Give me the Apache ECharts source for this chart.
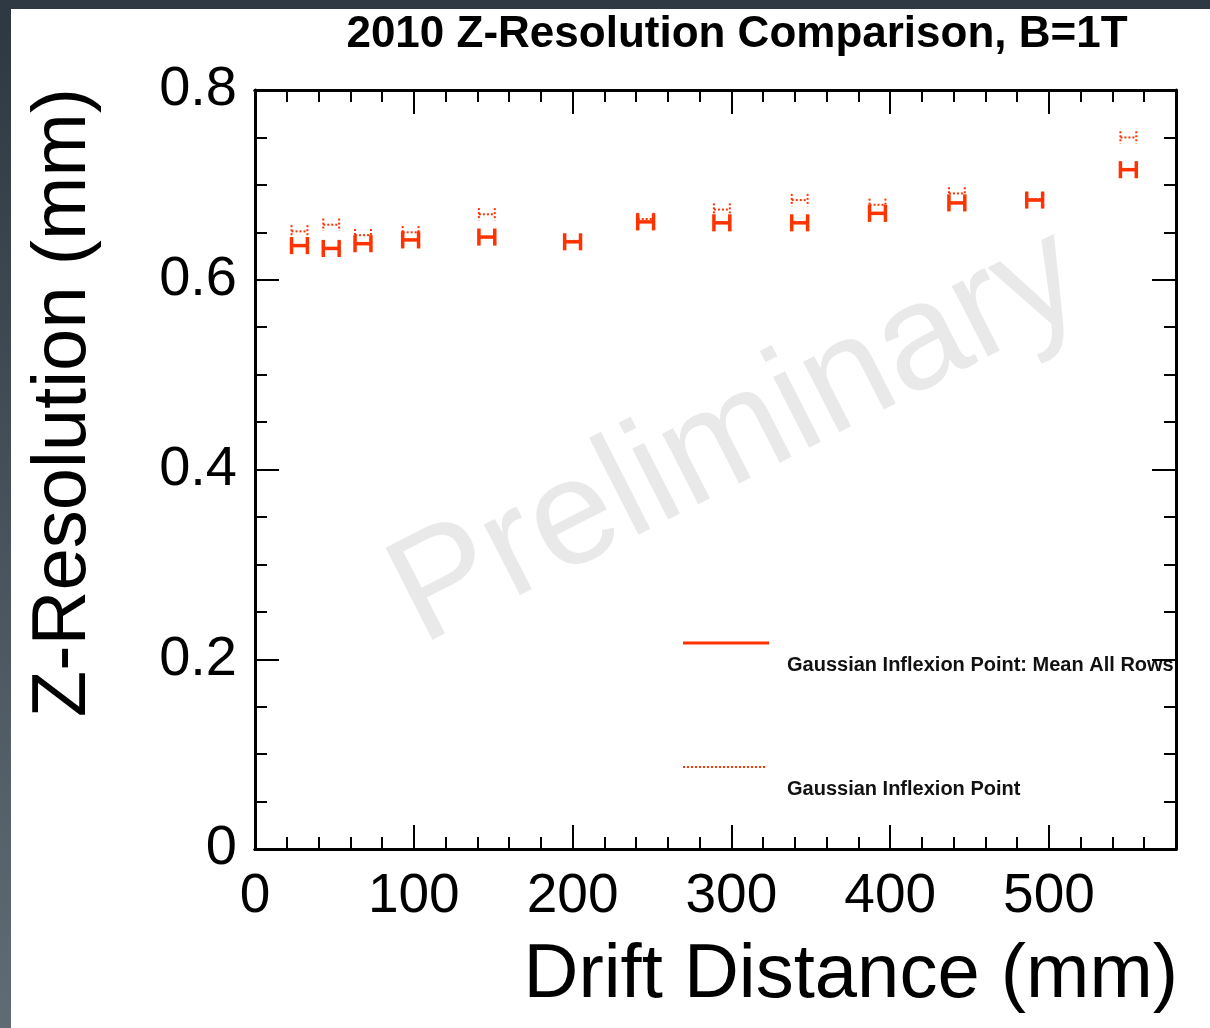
<!DOCTYPE html>
<html>
<head>
<meta charset="utf-8">
<title>2010 Z-Resolution Comparison</title>
<script src="https://cdn.jsdelivr.net/npm/echarts@6/dist/echarts.min.js"></script>
<style>
  html, body {
    margin: 0;
    padding: 0;
    width: 1210px;
    height: 1028px;
    overflow: hidden;
    background: linear-gradient(to bottom, #2e3843, #5f6b75);
  }
  .paper {
    position: absolute;
    left: 11px;
    top: 9px;
    right: 0;
    bottom: 0;
    background: #ffffff;
  }
  .com-chart {
    position: absolute;
    left: 0;
    top: 0;
    width: 1210px;
    height: 1028px;
  }
</style>
</head>
<body>
<div class="paper"></div>
<div class="com-chart" id="chart"></div>
<script>
// drift distance (mm) of each measured point
const distance = [28, 48, 68, 98, 146, 200, 246, 294, 343, 392, 442, 491, 550]
// Gaussian Inflexion Point: Mean All Rows (mm)
const meanAllRows = [0.636, 0.633, 0.638, 0.642, 0.645, 0.640, 0.661, 0.660, 0.660, 0.670, 0.681, 0.684, 0.716]
// Gaussian Inflexion Point (mm)
const inflexion = [0.651, 0.658, 0.647, 0.650, 0.669, 0.641, 0.664, 0.674, 0.684, 0.679, 0.691, 0.685, 0.750]
// error bar half sizes
const meanAllRowsErr = {x: 5, y: 0.009}
const inflexionErr = {x: 5, y: 0.0065}
const xTickLabels = ['0', '100', '200', '300', '400', '500']
const yTickLabels = ['0', '0.2', '0.4', '0.6', '0.8']

const FONT = "'Liberation Sans', Arial, Helvetica, sans-serif"
const RED = '#ff3300'

function toRows(ys, err) {
  return distance.map((d, i) => [d, ys[i], err.x, err.y])
}

function hMarker(width, dash) {
  return function (params, api) {
    const x = api.value(0), y = api.value(1), ex = api.value(2), ey = api.value(3)
    const l = api.coord([x - ex, y])
    const r = api.coord([x + ex, y])
    const lt = api.coord([x - ex, y + ey])
    const lb = api.coord([x - ex, y - ey])
    const rt = api.coord([x + ex, y + ey])
    const rb = api.coord([x + ex, y - ey])
    const style = {stroke: RED, lineWidth: width, lineDash: dash}
    return {
      type: 'group',
      children: [
        {type: 'line', shape: {x1: l[0], y1: l[1], x2: r[0], y2: r[1]}, style: style},
        {type: 'line', shape: {x1: lt[0], y1: lt[1], x2: lb[0], y2: lb[1]}, style: style},
        {type: 'line', shape: {x1: rt[0], y1: rt[1], x2: rb[0], y2: rb[1]}, style: style}
      ]
    }
  }
}

function xAxisDef(position, interval, tickLen, showLabel) {
  return {
    type: 'value',
    position: position,
    min: 0,
    max: 580,
    interval: interval,
    splitLine: {show: false},
    axisLine: {show: true, onZero: false, lineStyle: {color: '#000', width: 3}},
    axisTick: {show: true, inside: true, length: tickLen, lineStyle: {color: '#000', width: 2}},
    axisLabel: {
      show: showLabel,
      showMaxLabel: false,
      margin: 20,
      fontSize: 55,
      fontFamily: FONT,
      color: '#000',
      formatter: v => xTickLabels[Math.round(v / 100)] || ''
    }
  }
}

function yAxisDef(position, showLabel) {
  return {
    type: 'value',
    position: position,
    min: 0,
    max: 0.8,
    interval: 0.2,
    splitLine: {show: false},
    axisLine: {show: true, onZero: false, lineStyle: {color: '#000', width: 3}},
    axisTick: {show: true, inside: true, length: 24, lineStyle: {color: '#000', width: 2}},
    minorTick: {show: true, splitNumber: 4, length: 12, lineStyle: {color: '#000', width: 2}},
    axisLabel: {
      show: showLabel,
      margin: 18,
      fontSize: 56,
      fontFamily: FONT,
      color: '#000',
      padding: [12, 0, 0, 0],
      formatter: v => yTickLabels[Math.round(v / 0.2)] || ''
    }
  }
}

function initChart() {
  const chartInstance = echarts.init(document.getElementById('chart'), null, {renderer: 'canvas'})
  const option = {
    animation: false,
    backgroundColor: 'transparent',
    textStyle: {fontFamily: FONT},
    grid: {left: 255, right: 34, top: 90, bottom: 179},
    xAxis: [
      xAxisDef('bottom', 100, 24, true),
      xAxisDef('bottom', 20, 12, false),
      xAxisDef('top', 100, 24, false),
      xAxisDef('top', 20, 12, false)
    ],
    yAxis: [
      yAxisDef('left', true),
      yAxisDef('right', false)
    ],
    graphic: [
      {
        type: 'text', z: 0,
        x: 737, y: 438,
        rotation: 27 * Math.PI / 180,
        style: {text: 'Preliminary', font: '150px ' + FONT, fill: '#e9e9e9', textAlign: 'center', textVerticalAlign: 'middle'}
      },
      {
        type: 'text',
        x: 737, y: 35,
        style: {text: '2010 Z-Resolution Comparison, B=1T', font: 'bold 44px ' + FONT, fill: '#000', textAlign: 'center', textVerticalAlign: 'middle'}
      },
      {
        type: 'text',
        x: 64, y: 88,
        rotation: Math.PI / 2,
        style: {text: 'Z-Resolution (mm)', font: '76px ' + FONT, fill: '#000', textAlign: 'right', textVerticalAlign: 'middle'}
      },
      {
        type: 'text',
        x: 1178, y: 976,
        style: {text: 'Drift Distance (mm)', font: '76px ' + FONT, fill: '#000', textAlign: 'right', textVerticalAlign: 'middle'}
      },
      // legend
      {type: 'line', shape: {x1: 683, y1: 643, x2: 769, y2: 643}, style: {stroke: RED, lineWidth: 3}},
      {
        type: 'text', x: 787, y: 665,
        style: {text: 'Gaussian Inflexion Point: Mean All Rows', font: 'bold 20px ' + FONT, fill: '#111', textVerticalAlign: 'middle'}
      },
      {type: 'line', shape: {x1: 683, y1: 767, x2: 767, y2: 767}, style: {stroke: RED, lineWidth: 2, lineDash: [2, 2]}},
      {
        type: 'text', x: 787, y: 789,
        style: {text: 'Gaussian Inflexion Point', font: 'bold 20px ' + FONT, fill: '#111', textVerticalAlign: 'middle'}
      }
    ],
    series: [
      {
        name: 'Gaussian Inflexion Point',
        type: 'custom',
        xAxisIndex: 0,
        yAxisIndex: 0,
        encode: {x: 0, y: 1},
        renderItem: hMarker(2, [2, 2]),
        data: toRows(inflexion, inflexionErr)
      },
      {
        name: 'Gaussian Inflexion Point: Mean All Rows',
        type: 'custom',
        xAxisIndex: 0,
        yAxisIndex: 0,
        encode: {x: 0, y: 1},
        renderItem: hMarker(3.5, null),
        data: toRows(meanAllRows, meanAllRowsErr)
      }
    ]
  }
  chartInstance.setOption(option)
}

initChart()
</script>
</body>
</html>
